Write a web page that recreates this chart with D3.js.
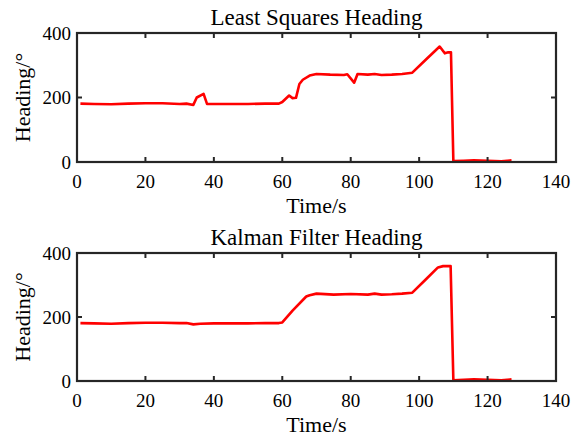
<!DOCTYPE html>
<html>
<head>
<meta charset="utf-8">
<script src="https://cdn.jsdelivr.net/npm/d3@7"></script>
<style>
  body { margin: 0; background: #fff; }
  svg text { font-family: "Liberation Serif", "Times New Roman", serif; fill: #000; }
</style>
</head>
<body>
<div id="chart"></div>
<script>
// --- Data ---
const xTicks = [0, 20, 40, 60, 80, 100, 120, 140];
const yTicks = [0, 200, 400];

const lsTime = [1, 5, 10, 15, 20, 25, 30, 32, 34, 35, 37, 38, 45, 50, 55, 59, 60, 62, 63, 64, 65, 66, 68, 70, 74, 78, 79, 81, 82, 85, 87, 89, 92, 95, 98, 102, 106, 107.5, 108.5, 109.3, 110, 113, 116, 120, 124, 127];
const lsHeading = [181, 180, 179, 181, 182, 182, 180, 181, 177, 200, 211, 180, 180, 180, 181, 181, 186, 206, 198, 199, 242, 255, 268, 273, 271, 270, 272, 246, 273, 271, 273, 270, 271, 273, 277, 318, 358, 337, 340, 340, 3, 4, 5, 4, 2, 5];

const kfTime = [1, 5, 10, 15, 20, 25, 30, 32, 34, 36, 40, 45, 50, 55, 59, 60, 63, 67, 68, 70, 75, 80, 85, 87, 89, 92, 95, 98, 102, 105.5, 107, 109.2, 110, 113, 116, 120, 124, 127];
const kfHeading = [181, 180, 179, 181, 182, 182, 181, 181, 177, 179, 180, 180, 180, 181, 181, 183, 220, 264, 268, 273, 270, 272, 270, 273, 270, 271, 273, 276, 318, 355, 359, 359, 2, 4, 5, 4, 2, 5];

const panels = [
  { title: "Least Squares Heading", time: lsTime, heading: lsHeading, top: 33, bottom: 162 },
  { title: "Kalman Filter Heading", time: kfTime, heading: kfHeading, top: 253, bottom: 381 }
];

// --- Layout ---
const width = 574, height = 439;
const left = 77, right = 556;
const axisColor = "#262626";
const tickLen = 5;

const svg = d3.select("#chart").append("svg")
  .attr("width", width)
  .attr("height", height);

const x = d3.scaleLinear().domain([0, 140]).range([left, right]);

panels.forEach(p => {
  const y = d3.scaleLinear().domain([0, 400]).range([p.bottom, p.top]);
  const g = svg.append("g");

  // data line
  const pts = p.time.map((t, i) => [t, p.heading[i]]);
  g.append("path")
    .datum(pts)
    .attr("fill", "none")
    .attr("stroke", "#ff0000")
    .attr("stroke-width", 2.6)
    .attr("stroke-linejoin", "round")
    .attr("d", d3.line().x(d => x(d[0])).y(d => y(d[1])));

  // ticks (inward, all four sides)
  xTicks.forEach(t => {
    g.append("line").attr("x1", x(t)).attr("x2", x(t))
      .attr("y1", p.bottom).attr("y2", p.bottom - tickLen)
      .attr("stroke", axisColor).attr("stroke-width", 2);
    g.append("line").attr("x1", x(t)).attr("x2", x(t))
      .attr("y1", p.top).attr("y2", p.top + tickLen)
      .attr("stroke", axisColor).attr("stroke-width", 2);
    g.append("text")
      .attr("x", x(t)).attr("y", p.bottom + 26)
      .attr("text-anchor", "middle")
      .attr("font-size", 19)
      .text(t);
  });
  yTicks.forEach(t => {
    g.append("line").attr("x1", left).attr("x2", left + tickLen)
      .attr("y1", y(t)).attr("y2", y(t))
      .attr("stroke", axisColor).attr("stroke-width", 2);
    g.append("line").attr("x1", right).attr("x2", right - tickLen)
      .attr("y1", y(t)).attr("y2", y(t))
      .attr("stroke", axisColor).attr("stroke-width", 2);
    g.append("text")
      .attr("x", left - 6).attr("y", y(t) + 6.5)
      .attr("text-anchor", "end")
      .attr("font-size", 19)
      .text(t);
  });

  // box
  g.append("rect")
    .attr("x", left).attr("y", p.top)
    .attr("width", right - left).attr("height", p.bottom - p.top)
    .attr("fill", "none")
    .attr("stroke", axisColor)
    .attr("stroke-width", 2.2);

  // title and labels
  g.append("text")
    .attr("x", (left + right) / 2).attr("y", p.top - 8)
    .attr("text-anchor", "middle")
    .attr("font-size", 23)
    .text(p.title);
  g.append("text")
    .attr("x", (left + right) / 2).attr("y", p.bottom + 51)
    .attr("text-anchor", "middle")
    .attr("font-size", 22)
    .text("Time/s");
  g.append("text")
    .attr("transform", `translate(30,${(p.top + p.bottom) / 2}) rotate(-90)`)
    .attr("text-anchor", "middle")
    .attr("font-size", 22)
    .text("Heading/°");
});
</script>
</body>
</html>
